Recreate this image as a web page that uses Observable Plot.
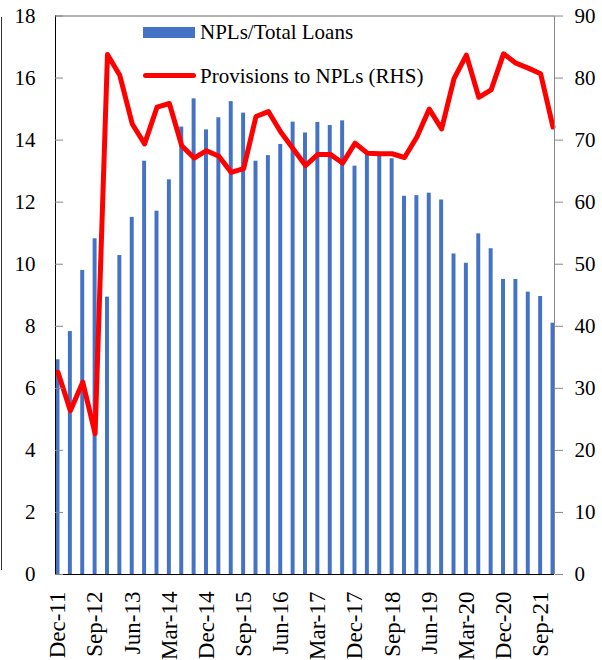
<!DOCTYPE html>
<html>
<head>
<meta charset="utf-8">
<script src="https://cdn.jsdelivr.net/npm/d3@7"></script>
<script src="https://cdn.jsdelivr.net/npm/@observablehq/plot@0.6"></script>
<style>
  html, body { margin: 0; padding: 0; background: #fff; }
  #wrap { position: relative; width: 602px; height: 660px; overflow: hidden; font-family: "Liberation Serif", "Times New Roman", serif; }
  #chart svg { display: block; }
  #chart svg text, #chart svg g { font-family: "Liberation Serif", "Times New Roman", serif !important; }
  .leg { position: absolute; font-size: 21px; color: #000; white-space: nowrap; line-height: 1; }
  .sw-bar { position: absolute; left: 143px; top: 27px; width: 52px; height: 11px; background: #4472C4; }
  .sw-line { position: absolute; left: 143px; top: 72.5px; width: 53px; height: 5px; background: #ff0000; border-radius: 3px; }
  #edge { position: absolute; left: 1px; top: 17px; width: 1px; height: 553px; background: #333; }
</style>
</head>
<body>
<div id="wrap">
  <div id="chart"></div>
  <div id="edge"></div>
  <div class="sw-bar"></div>
  <div class="leg" style="left:200px; top:22px;">NPLs/Total Loans</div>
  <div class="sw-line"></div>
  <div class="leg" style="left:200px; top:66px;">Provisions to NPLs (RHS)</div>
</div>
<script>
const quarters = ["Dec-11","Mar-12","Jun-12","Sep-12","Dec-12","Mar-13","Jun-13","Sep-13","Dec-13","Mar-14","Jun-14","Sep-14","Dec-14","Mar-15","Jun-15","Sep-15","Dec-15","Mar-16","Jun-16","Sep-16","Dec-16","Mar-17","Jun-17","Sep-17","Dec-17","Mar-18","Jun-18","Sep-18","Dec-18","Mar-19","Jun-19","Sep-19","Dec-19","Mar-20","Jun-20","Sep-20","Dec-20","Mar-21","Jun-21","Sep-21","Dec-21"];
const nplRatio = [6.92,7.83,9.80,10.82,8.94,10.28,11.51,13.32,11.71,12.72,14.42,15.33,14.33,14.72,15.24,14.87,13.32,13.50,13.86,14.58,14.23,14.57,14.47,14.62,13.16,13.54,13.50,13.40,12.19,12.21,12.29,12.07,10.33,10.03,10.98,10.50,9.51,9.51,9.10,8.96,8.10];
const provisions = [32.6,26.4,31.0,22.7,83.8,80.4,72.6,69.4,75.3,75.9,69.1,67.1,68.3,67.4,64.8,65.4,73.8,74.6,71.3,68.6,65.9,67.7,67.7,66.3,69.5,67.9,67.8,67.8,67.2,70.5,75.0,71.8,79.9,83.7,76.9,78.1,83.9,82.4,81.6,80.7,72.1];
const leftTicks = [0,2,4,6,8,10,12,14,16,18];
const xLabelEvery = 3;

const serif = "Liberation Serif, Times New Roman, serif";
const rhsFactor = 90 / 18;
const data = quarters.map((q, i) => ({i, q, npl: nplRatio[i], prov: provisions[i] / rhsFactor}));
const xTicks = d3.range(0, quarters.length, xLabelEvery);
const xMin = -0.2, xMax = 40.12;

const chart = Plot.plot({
  width: 602,
  height: 660,
  marginLeft: 55,
  marginRight: 48,
  marginTop: 15.5,
  marginBottom: 86,
  style: {fontFamily: serif, fontSize: "21px", color: "#000", background: "transparent"},
  x: {type: "linear", domain: [xMin, xMax], axis: null},
  y: {domain: [0, 18], axis: null},
  marks: [
    Plot.rectY(data, {x1: d => d.i - 0.16, x2: d => d.i + 0.16, y: "npl", fill: "#4472C4"}),
    Plot.line(data, {x: "i", y: "prov", stroke: "#ff0000", strokeWidth: 5, strokeLinejoin: "round", strokeLinecap: "round"}),
    Plot.ruleY([18], {stroke: "#666", strokeWidth: 1}),
    Plot.ruleX([xMax], {stroke: "#888", strokeWidth: 1}),
    Plot.ruleX([xMin], {stroke: "#000", strokeWidth: 1}),
    Plot.ruleY([0], {stroke: "#000", strokeWidth: 1.2}),
    Plot.tickY(leftTicks, {y: d => d, stroke: "#888", insetRight: 491}),
    Plot.axisY({anchor: "left", ticks: leftTicks, tickSize: 0, tickPadding: 20, fontSize: 21, fontFamily: serif, label: null}),
    Plot.axisY({anchor: "right", ticks: leftTicks, tickFormat: d => d * rhsFactor, tickSize: 8, tickPadding: 12, stroke: "#888", fill: "#000", fontSize: 21, fontFamily: serif, label: null}),
    Plot.axisX({anchor: "bottom", ticks: xTicks, tickFormat: i => quarters[i], tickRotate: -90, tickSize: 0, tickPadding: 17, fontSize: 23, fontFamily: serif, label: null})
  ]
});
document.getElementById("chart").appendChild(chart);
</script>
</body>
</html>
